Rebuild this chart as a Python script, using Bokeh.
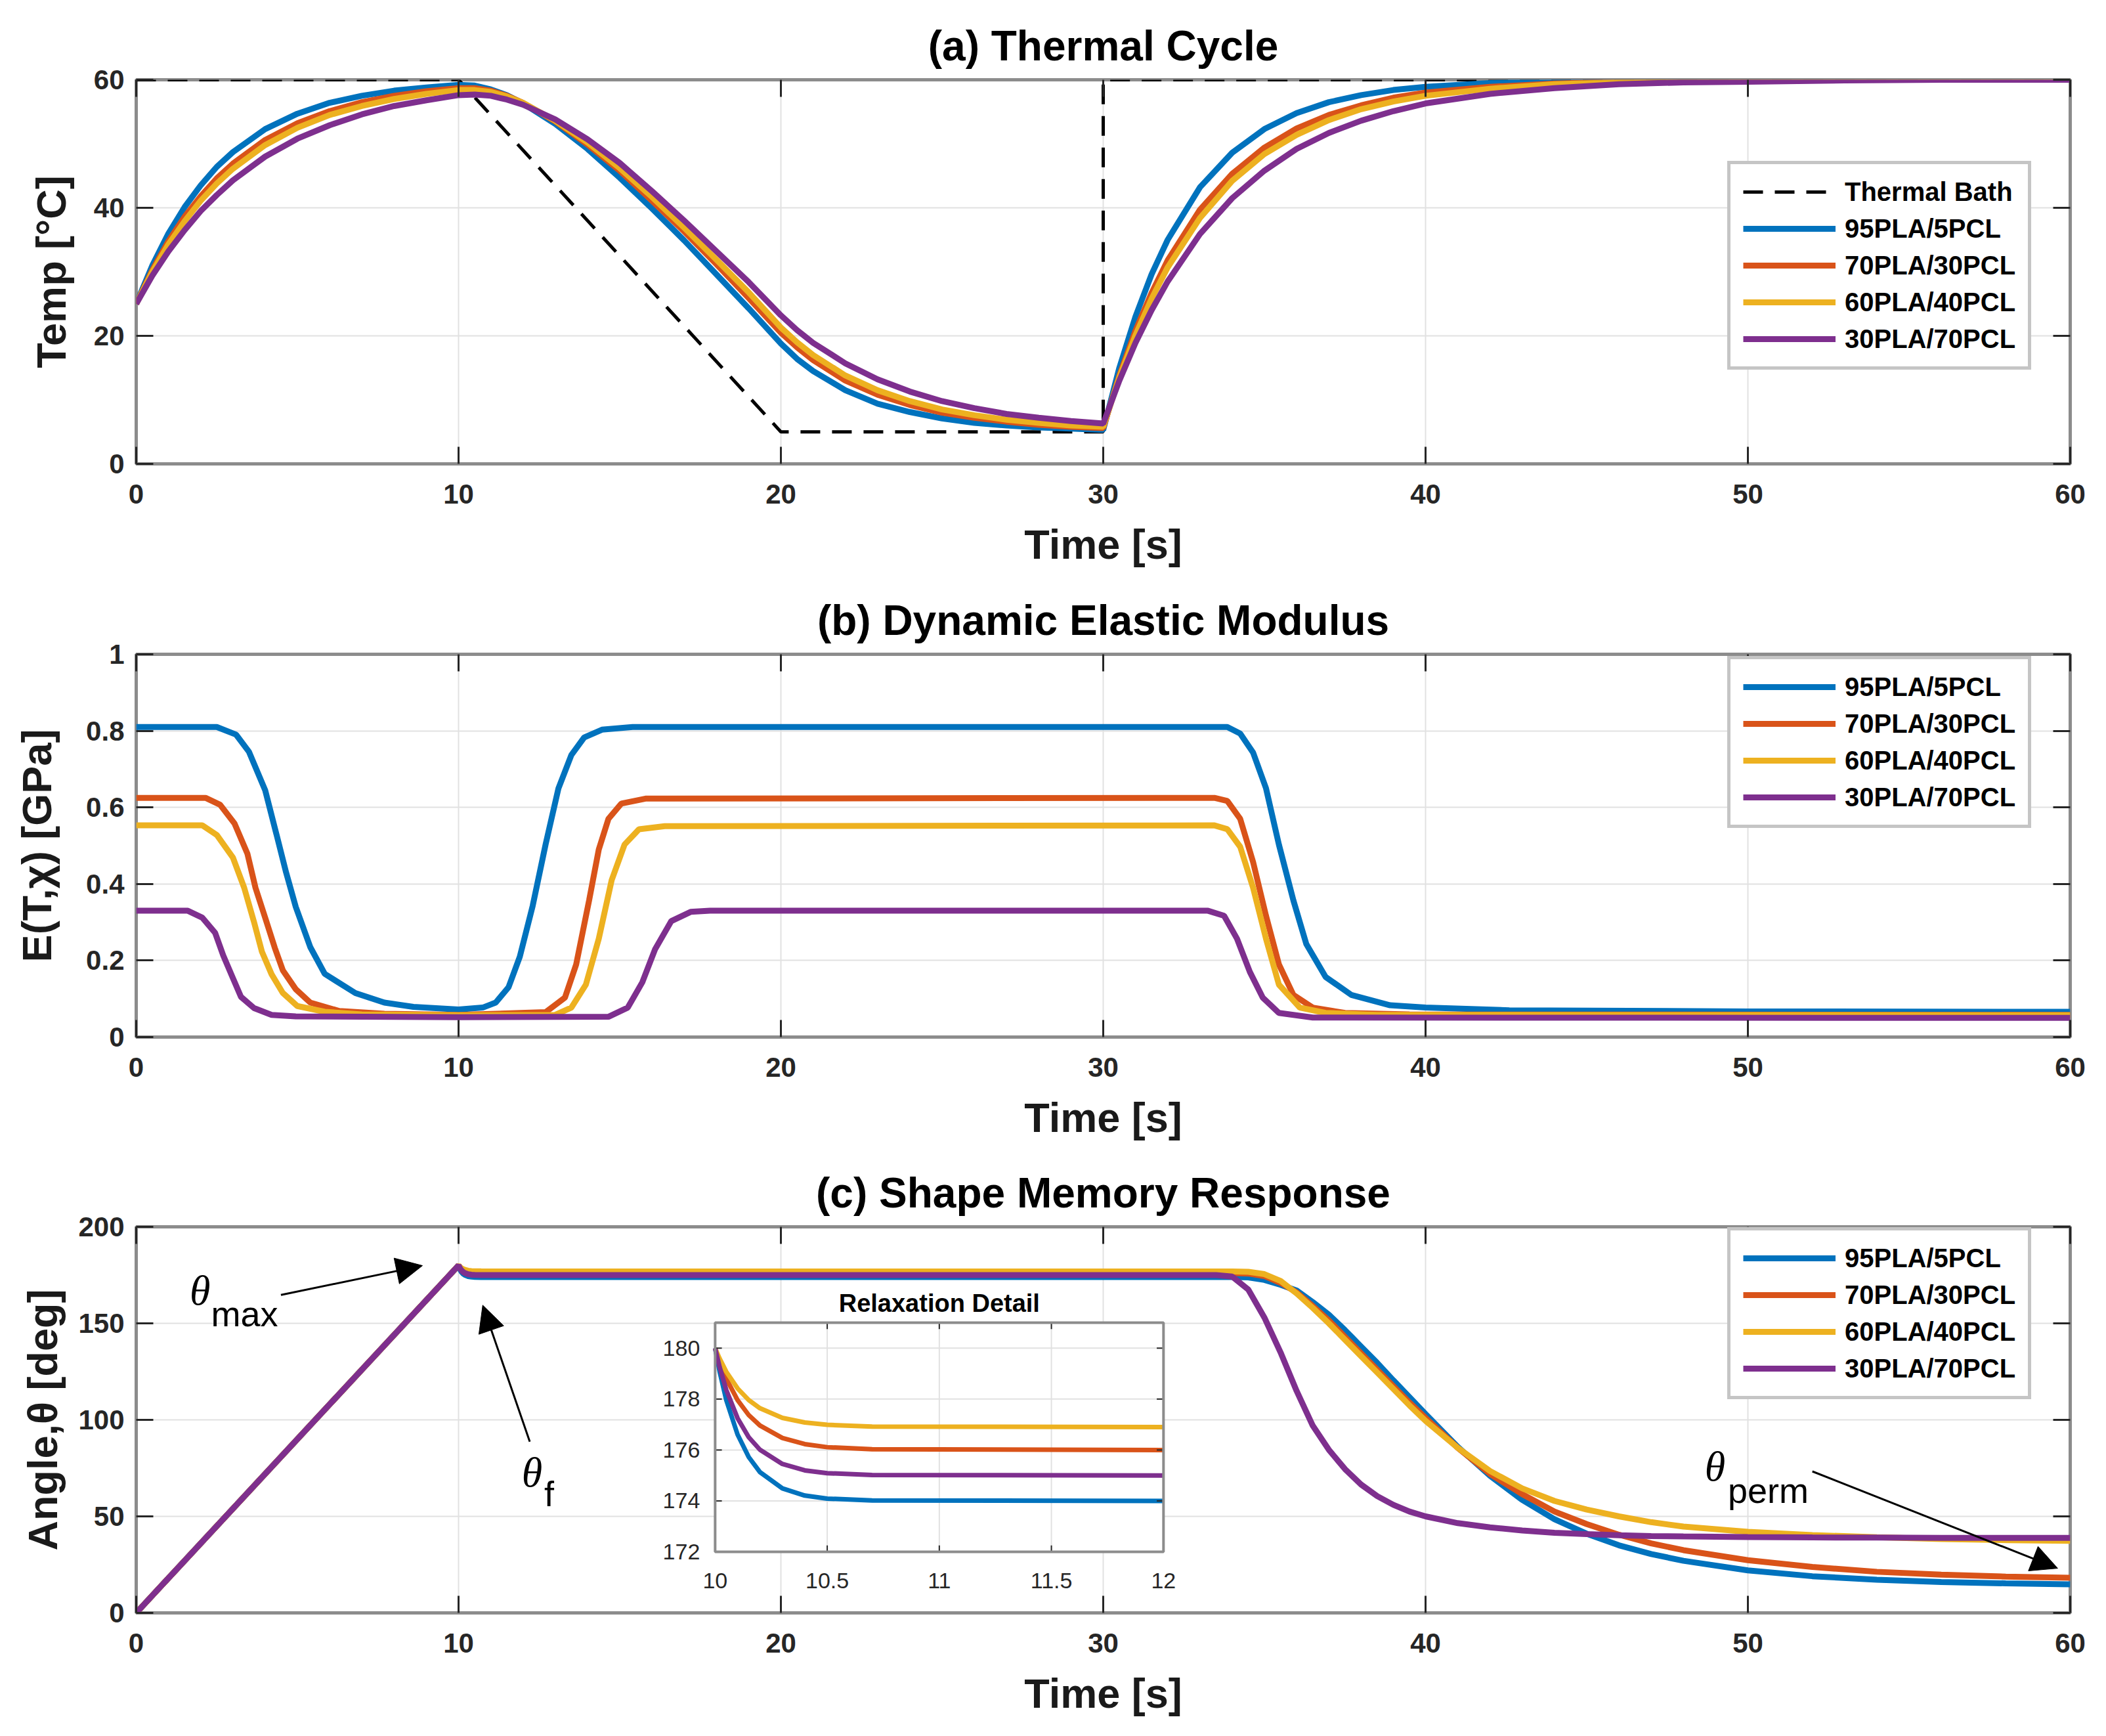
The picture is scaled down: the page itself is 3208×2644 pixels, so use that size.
from bokeh.plotting import figure
from bokeh.layouts import column
from bokeh.models import (Range1d, LinearAxis, Legend, LegendItem, Arrow, NormalHead,
                          FixedTicker, CustomJSTickFormatter)
from bokeh.core.properties import value
from bokeh.embed import file_html
from bokeh.resources import INLINE

# ---------------- data ----------------
series_names = ["95PLA/5PCL", "70PLA/30PCL", "60PLA/40PCL", "30PLA/70PCL"]
series_colors = ["#0072BD", "#D95319", "#EDB120", "#7E2F8E"]

time_ticks = [0, 10, 20, 30, 40, 50, 60]

# (a) thermal cycle
bath_t = [0, 10, 20, 30, 30, 60]
bath_T = [60, 60, 5, 5, 60, 60]

temp_t = [0, 0.5, 1, 1.5, 2, 2.5, 3, 4, 5, 6, 7, 8, 9, 10,
          10.5, 11, 11.5, 12, 13, 14, 15, 16, 17, 18, 19, 20,
          20.5, 21, 22, 23, 24, 25, 26, 27, 28, 29, 30,
          30.5, 31, 31.5, 32, 33, 34, 35, 36, 37, 38, 39, 40, 42, 44, 46, 48, 50, 53, 56, 60]
temp_95 = [25.0, 31.0, 36.0, 40.1, 43.5, 46.4, 48.7, 52.3, 54.7, 56.4, 57.5, 58.3, 58.8, 59.2,
           59.1, 58.5, 57.6, 56.3, 53.1, 49.2, 44.7, 39.9, 34.9, 29.6, 24.3, 18.8,
           16.4, 14.5, 11.5, 9.4, 8.1, 7.1, 6.4, 6.0, 5.7, 5.5, 5.3,
           15.0, 23.0, 29.6, 35.0, 43.2, 48.6, 52.3, 54.8, 56.5, 57.6, 58.4, 58.9, 59.5, 59.8, 59.9, 59.9, 60.0, 60.0, 60.0, 60.0]
temp_70 = [25.0, 30.3, 34.8, 38.6, 41.8, 44.6, 46.9, 50.6, 53.2, 55.1, 56.5, 57.5, 58.2, 58.7,
           58.7, 58.3, 57.5, 56.4, 53.5, 49.9, 45.8, 41.1, 36.3, 31.2, 25.9, 20.5,
           18.2, 16.2, 13.0, 10.8, 9.2, 8.0, 7.2, 6.6, 6.1, 5.8, 5.6,
           13.8, 20.8, 26.7, 31.8, 39.7, 45.3, 49.4, 52.4, 54.5, 56.0, 57.2, 58.0, 58.9, 59.4, 59.7, 59.9, 59.9, 60.0, 60.0, 60.0]
temp_60 = [25.0, 30.0, 34.3, 37.9, 41.1, 43.8, 46.1, 49.8, 52.5, 54.5, 55.9, 57.0, 57.8, 58.4,
           58.4, 58.1, 57.4, 56.4, 53.6, 50.2, 46.2, 41.7, 36.9, 31.9, 26.8, 21.3,
           19.0, 17.0, 13.8, 11.5, 9.8, 8.5, 7.6, 6.9, 6.4, 6.0, 5.8,
           13.5, 20.1, 25.8, 30.7, 38.4, 44.2, 48.4, 51.4, 53.7, 55.4, 56.6, 57.5, 58.6, 59.3, 59.6, 59.8, 59.9, 60.0, 60.0, 60.0]
temp_30 = [25.0, 29.4, 33.2, 36.5, 39.5, 42.0, 44.3, 48.0, 50.8, 52.9, 54.6, 55.9, 56.8, 57.6,
           57.7, 57.5, 56.9, 56.1, 53.8, 50.7, 47.0, 42.6, 38.0, 33.2, 28.4, 23.2,
           20.9, 18.9, 15.7, 13.2, 11.3, 9.8, 8.7, 7.8, 7.2, 6.7, 6.3,
           13.0, 18.9, 24.0, 28.5, 35.9, 41.5, 45.8, 49.2, 51.7, 53.6, 55.1, 56.3, 57.8, 58.7, 59.3, 59.6, 59.7, 59.9, 60.0, 60.0]

# (b) dynamic elastic modulus [GPa]
mod_t_95 = [0, 2.5, 3.1, 3.5, 4.0, 4.35, 4.65, 4.95, 5.4, 5.85, 6.8, 7.7, 8.6, 10.0, 10.75, 11.15,
            11.55, 11.9, 12.3, 12.7, 13.1, 13.5, 13.9, 14.45, 15.4, 33.85, 34.25, 34.65, 35.05,
            35.45, 35.9, 36.3, 36.9, 37.7, 38.9, 40.0, 42.6, 50.0, 60.0]
mod_95 = [0.81, 0.81, 0.79, 0.745, 0.645, 0.53, 0.43, 0.34, 0.235, 0.165, 0.115, 0.09, 0.079, 0.072,
          0.077, 0.09, 0.13, 0.21, 0.343, 0.503, 0.65, 0.737, 0.783, 0.803, 0.81, 0.81, 0.793, 0.743,
          0.65, 0.503, 0.357, 0.243, 0.157, 0.11, 0.083, 0.077, 0.07, 0.067, 0.066]
mod_t_70 = [0, 2.15, 2.6, 3.05, 3.45, 3.7, 4.0, 4.3, 4.55, 4.95, 5.4, 6.3, 7.7, 10.0, 12.7, 13.3,
            13.65, 14.05, 14.35, 14.65, 15.05, 15.8, 33.45, 33.85, 34.25, 34.65, 35.05, 35.45,
            35.9, 36.5, 37.5, 39.5, 60.0]
mod_70 = [0.625, 0.625, 0.607, 0.558, 0.479, 0.39, 0.312, 0.233, 0.174, 0.125, 0.09, 0.068, 0.061,
          0.058, 0.065, 0.103, 0.19, 0.357, 0.49, 0.57, 0.61, 0.623, 0.625, 0.617, 0.57, 0.457,
          0.317, 0.19, 0.11, 0.077, 0.063, 0.059, 0.058]
mod_t_60 = [0, 2.05, 2.5, 3.0, 3.35, 3.65, 3.9, 4.2, 4.55, 5.0, 5.85, 7.0, 10.0, 13.0, 13.5, 13.95,
            14.35, 14.75, 15.15, 15.6, 16.4, 33.45, 33.85, 34.25, 34.65, 35.05, 35.45, 36.1, 36.9,
            38.5, 60.0]
mod_60 = [0.553, 0.553, 0.528, 0.469, 0.39, 0.302, 0.223, 0.164, 0.115, 0.081, 0.066, 0.059, 0.057,
          0.058, 0.077, 0.137, 0.257, 0.41, 0.503, 0.543, 0.551, 0.553, 0.543, 0.497, 0.39, 0.257,
          0.137, 0.077, 0.063, 0.058, 0.057]
mod_t_30 = [0, 1.6, 2.05, 2.45, 2.7, 3.0, 3.25, 3.65, 4.2, 4.95, 10.0, 14.65, 15.25, 15.7, 16.1,
            16.6, 17.2, 17.8, 33.25, 33.75, 34.15, 34.55, 34.95, 35.45, 36.5, 60.0]
mod_30 = [0.33, 0.33, 0.312, 0.272, 0.213, 0.154, 0.105, 0.076, 0.058, 0.054, 0.052, 0.053, 0.077,
          0.143, 0.23, 0.303, 0.327, 0.33, 0.33, 0.317, 0.257, 0.17, 0.103, 0.063, 0.051, 0.05]

# (c) shape memory response [deg]
angle_t = [0, 10, 10.02, 10.05, 10.1, 10.15, 10.2, 10.3, 10.4, 10.5, 10.7, 12,
           33.5, 34.0, 34.5, 35.0, 35.5, 36.0, 36.5, 37.0, 37.5, 38.0, 38.5, 39.0, 39.5, 40.0,
           41.0, 42.0, 43.0, 44.0, 45.0, 46.0, 47.0, 48.0, 50.0, 52.0, 54.0, 56.0, 58.0, 60.0]
angle_95 = [0, 180, 179.08, 177.95, 176.61, 175.72, 175.13, 174.49, 174.21, 174.09, 174.02, 174.0,
            174.0, 174.0, 173.8, 172.5, 170.0, 167.0, 161.0, 154.5, 146.5, 138.0, 129.5, 120.5, 111.8, 103.0,
            86.0, 71.0, 58.5, 48.5, 41.0, 35.0, 30.5, 27.0, 22.0, 19.0, 17.2, 16.0, 15.3, 14.8]
angle_70 = [0, 180, 179.47, 178.8, 177.96, 177.37, 176.96, 176.47, 176.23, 176.11, 176.03, 176.0,
            176.0, 176.0, 175.8, 174.5, 171.0, 166.0, 159.0, 151.5, 143.0, 134.5, 126.0, 117.5, 109.0, 101.0,
            85.5, 72.0, 61.5, 52.5, 46.0, 40.5, 36.0, 32.5, 27.3, 23.8, 21.3, 19.8, 18.8, 18.2]
angle_60 = [0, 180, 179.59, 179.07, 178.42, 177.96, 177.64, 177.26, 177.08, 176.99, 176.92, 176.9,
            176.9, 176.9, 176.7, 175.5, 172.0, 165.5, 158.0, 150.0, 141.5, 133.0, 124.5, 116.0, 107.5, 99.5,
            85.5, 73.5, 64.5, 58.0, 53.5, 50.0, 47.0, 44.7, 42.0, 40.3, 39.2, 38.3, 37.7, 37.3]
angle_30 = [0, 180, 179.26, 178.35, 177.25, 176.5, 176.01, 175.45, 175.2, 175.09, 175.02, 175.0,
            175.0, 174.2, 167.5, 153.0, 135.0, 115.0, 97.0, 84.5, 74.5, 66.5, 60.5, 56.0, 52.5, 50.0,
            46.5, 44.3, 42.7, 41.5, 40.8, 40.2, 39.8, 39.6, 39.3, 39.1, 39.0, 38.9, 38.9, 38.9]

inset_x_ticks = [10, 10.5, 11, 11.5, 12]
inset_x_labels = ["10", "10.5", "11", "11.5", "12"]
inset_y_ticks = [172, 174, 176, 178, 180]
inset_y_labels = ["172", "174", "176", "178", "180"]

# ---------------- styling ----------------
FONT = "Liberation Sans"
GRAY = "#8c8c8c"
TICKC = "#262626"
GRIDC = "#e1e1e1"
LW = 9


def style_axis(ax, ticks, labels=True, fmt=None, standoff=20):
    ax.ticker = FixedTicker(ticks=ticks)
    ax.axis_line_color = None
    ax.major_tick_in = 26
    ax.major_tick_out = 0
    ax.major_tick_line_color = TICKC
    ax.major_tick_line_width = 3
    ax.minor_tick_line_color = None
    ax.major_label_text_font = FONT
    ax.major_label_text_font_size = "42px"
    ax.major_label_text_font_style = "bold"
    ax.major_label_text_color = TICKC
    ax.major_label_standoff = standoff
    if not labels:
        ax.formatter = CustomJSTickFormatter(code="return ''")
        ax.major_label_standoff = 0
    elif fmt is not None:
        ax.formatter = fmt


def make_panel(h, top_b, bot_b, yr, yticks, title, ylabel, ylab_standoff, fmt=None):
    p = figure(width=3208, height=h, x_range=Range1d(0, 60), y_range=Range1d(*yr),
               output_backend="svg", toolbar_location=None,
               min_border_left=207, min_border_right=55,
               min_border_top=top_b, min_border_bottom=bot_b)
    p.background_fill_color = "white"
    p.border_fill_color = "white"
    p.outline_line_color = GRAY
    p.outline_line_width = 5
    p.title.text = title
    p.title.align = "center"
    p.title.text_font = FONT
    p.title.text_font_size = "64px"
    p.title.text_font_style = "bold"
    p.title.text_color = "black"
    p.title.standoff = 32
    xa = p.xaxis[0]
    ya = p.yaxis[0]
    style_axis(xa, time_ticks, standoff=31)
    style_axis(ya, yticks, fmt=fmt, standoff=18)
    for ax, lab, so in ((xa, "Time [s]", 24), (ya, ylabel, ylab_standoff)):
        ax.axis_label = lab
        ax.axis_label_text_font = FONT
        ax.axis_label_text_font_size = "63px"
        ax.axis_label_text_font_style = "bold"
        ax.axis_label_text_color = "#1a1a1a"
        ax.axis_label_standoff = so
    top = LinearAxis()
    right = LinearAxis()
    style_axis(top, time_ticks, labels=False)
    style_axis(right, yticks, labels=False)
    p.add_layout(top, "above")
    p.add_layout(right, "right")
    p.xgrid.grid_line_color = GRIDC
    p.ygrid.grid_line_color = GRIDC
    p.xgrid.grid_line_width = 2
    p.ygrid.grid_line_width = 2
    return p


def add_legend(p, items, loc):
    leg = Legend(items=items, location=loc)
    leg.label_text_font = FONT
    leg.label_text_font_size = "40px"
    leg.label_text_font_style = "bold"
    leg.label_text_color = "black"
    leg.glyph_width = 141
    leg.glyph_height = 46
    leg.label_height = 46
    leg.label_standoff = 14
    leg.spacing = 10
    leg.padding = 19
    leg.margin = 0
    leg.border_line_color = GRAY
    leg.border_line_width = 5
    leg.background_fill_color = "white"
    leg.background_fill_alpha = 1.0
    p.add_layout(leg)


# ---------------- panel (a) ----------------
pa = make_panel(881, 121, 175, (0, 60), [0, 20, 40, 60], "(a) Thermal Cycle", "Temp [°C]", 27)
items_a = []
rb = pa.line(bath_t, bath_T, line_color="black", line_width=5, line_dash="30 18")
items_a.append(LegendItem(label="Thermal Bath", renderers=[rb]))
for name, col, ys in zip(series_names, series_colors, [temp_95, temp_70, temp_60, temp_30]):
    r = pa.line(temp_t, ys, line_color=col, line_width=LW)
    items_a.append(LegendItem(label=name, renderers=[r]))
add_legend(pa, items_a, (2424, 143))

# ---------------- panel (b) ----------------
pb = make_panel(873, 115, 175, (0, 1), [0, 0.2, 0.4, 0.6, 0.8, 1],
                "(b) Dynamic Elastic Modulus", "E(T,χ) [GPa]", 37,
                fmt=CustomJSTickFormatter(code="return tick.toString()"))
items_b = []
for name, col, xs, ys in zip(series_names, series_colors,
                             [mod_t_95, mod_t_70, mod_t_60, mod_t_30],
                             [mod_95, mod_70, mod_60, mod_30]):
    r = pb.line(xs, ys, line_color=col, line_width=LW)
    items_b.append(LegendItem(label=name, renderers=[r]))
add_legend(pb, items_b, (2424, 318))

# ---------------- panel (c) ----------------
pc = make_panel(890, 114, 188, (0, 200), [0, 50, 100, 150, 200],
                "(c) Shape Memory Response", "Angle,θ [deg]", 16)
items_c = []
angle_series = [angle_95, angle_70, angle_60, angle_30]
for name, col, ys in zip(series_names, series_colors, angle_series):
    r = pc.line(angle_t, ys, line_color=col, line_width=LW)
    items_c.append(LegendItem(label=name, renderers=[r]))
add_legend(pc, items_c, (2424, 325))

# annotations
pc.text(x=[1.98], y=[167.0], text=["θ"], text_font=value("Liberation Serif"),
        text_font_style="italic", text_font_size="64px", text_align="center",
        text_baseline="middle", text_color="black")
pc.text(x=[3.36], y=[155.1], text=["max"], text_font=value(FONT), text_font_size="54px",
        text_align="center", text_baseline="middle", text_color="black")
pc.text(x=[12.28], y=[72.8], text=["θ"], text_font=value("Liberation Serif"),
        text_font_style="italic", text_font_size="64px", text_align="center",
        text_baseline="middle", text_color="black")
pc.text(x=[12.81], y=[61.6], text=["f"], text_font=value(FONT), text_font_size="54px",
        text_align="center", text_baseline="middle", text_color="black")
pc.text(x=[48.98], y=[75.9], text=["θ"], text_font=value("Liberation Serif"),
        text_font_style="italic", text_font_size="64px", text_align="center",
        text_baseline="middle", text_color="black")
pc.text(x=[50.63], y=[63.3], text=["perm"], text_font=value(FONT), text_font_size="54px",
        text_align="center", text_baseline="middle", text_color="black")
for (x0, y0, x1, y1) in [(4.49, 164.7, 8.88, 179.9), (12.21, 88.7, 10.75, 159.4),
                         (52.0, 73.3, 59.61, 23.1)]:
    pc.add_layout(Arrow(end=NormalHead(size=40, fill_color="black", line_color="black", line_width=1),
                        x_start=x0, y_start=y0, x_end=x1, y_end=y1,
                        line_color="black", line_width=3))

# inset (Relaxation Detail) drawn through a sub-coordinate mapping
sub = pc.subplot(x_source=Range1d(10, 12), y_source=Range1d(172, 181),
                 x_target=Range1d(17.96, 31.87), y_target=Range1d(31.63, 150.34))
sub.quad(left=[10], right=[12], bottom=[172], top=[181], fill_color="white", line_color=None)
sub.segment(x0=inset_x_ticks[1:-1], y0=[172] * 3, x1=inset_x_ticks[1:-1], y1=[181] * 3,
            line_color=GRIDC, line_width=2)
sub.segment(x0=[10] * 5, y0=inset_y_ticks, x1=[12] * 5, y1=inset_y_ticks,
            line_color=GRIDC, line_width=2)
for col, ys in zip(series_colors, angle_series):
    xs_in = [t for t in angle_t if 10 <= t <= 12]
    ys_in = [v for t, v in zip(angle_t, ys) if 10 <= t <= 12]
    sub.line(xs_in, ys_in, line_color=col, line_width=7)
# inward ticks of the inset
sub.segment(x0=inset_x_ticks, y0=[172] * 5, x1=inset_x_ticks, y1=[172.25] * 5, line_color=TICKC, line_width=2)
sub.segment(x0=inset_x_ticks, y0=[181] * 5, x1=inset_x_ticks, y1=[180.75] * 5, line_color=TICKC, line_width=2)
sub.segment(x0=[10] * 5, y0=inset_y_ticks, x1=[10.03] * 5, y1=inset_y_ticks, line_color=TICKC, line_width=2)
sub.segment(x0=[12] * 5, y0=inset_y_ticks, x1=[11.97] * 5, y1=inset_y_ticks, line_color=TICKC, line_width=2)
sub.quad(left=[10], right=[12], bottom=[172], top=[181], fill_color=None,
         line_color=GRAY, line_width=4)
sub.text(x=inset_x_ticks, y=[172] * 5, text=inset_x_labels, y_offset=44, text_align="center",
         text_baseline="middle", text_font=value(FONT), text_font_size="34px", text_color=TICKC)
sub.text(x=[10] * 5, y=inset_y_ticks, text=inset_y_labels, x_offset=-23, text_align="right",
         text_baseline="middle", text_font=value(FONT), text_font_size="34px", text_color=TICKC)
sub.text(x=[11], y=[181], text=["Relaxation Detail"], y_offset=-30, text_align="center",
         text_baseline="middle", text_font=value(FONT), text_font_size="38px",
         text_font_style="bold", text_color="black")

layout = column(pa, pb, pc, spacing=0)
open("out.html", "w").write(file_html(layout, INLINE))
